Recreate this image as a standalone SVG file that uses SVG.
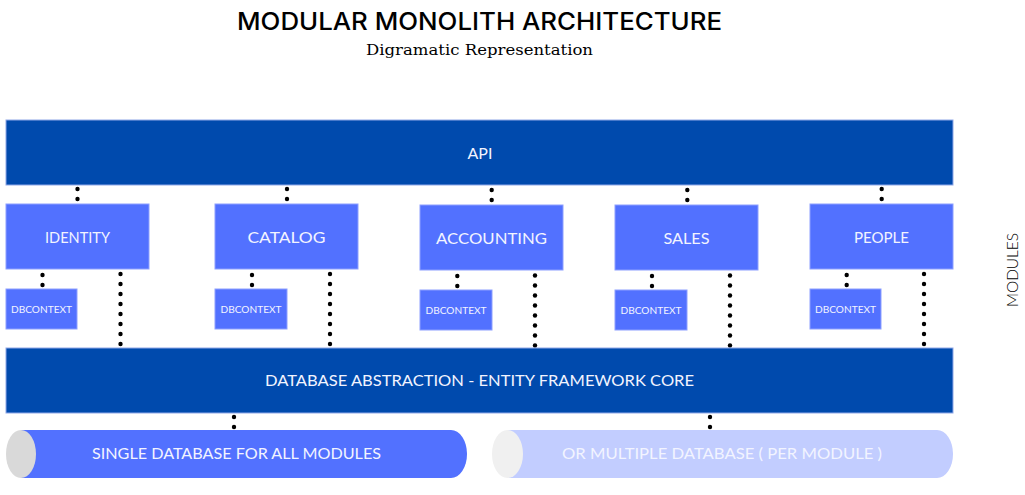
<svg xmlns="http://www.w3.org/2000/svg" width="1025" height="495" viewBox="0 0 1025 495">
<style>
.bar{fill:#004AAD;stroke:#8fa8e8;stroke-width:1}
.mod{fill:#5271FF;stroke:#8da0ff;stroke-width:1}
.lbl{font-family:Lato,"Open Sans",sans-serif;font-weight:400;fill:#f2f4ff;text-anchor:middle;dominant-baseline:central}
.dot{fill:#000}
</style>
<rect width="1025" height="495" fill="#fff"/>
<g id="title">
<text x="479.5" y="30" font-family="Inter,Lato,sans-serif" font-weight="500" font-size="24" fill="#000" text-anchor="middle" textLength="485" lengthAdjust="spacingAndGlyphs">MODULAR MONOLITH ARCHITECTURE</text>
<text x="479.5" y="55" font-family="'DejaVu Serif',serif" font-size="15" fill="#000" text-anchor="middle" textLength="227" lengthAdjust="spacingAndGlyphs">Digramatic Representation</text>
</g>
<g id="api"><rect class="bar" x="6" y="120" width="947" height="65"/><text class="lbl" x="480" y="152.5" font-size="16">API</text></g>
<g id="identity"><rect class="mod" x="6" y="204" width="143" height="65"/><text class="lbl" x="77.5" y="236" font-size="16" textLength="65" lengthAdjust="spacingAndGlyphs">IDENTITY</text></g>
<g id="catalog"><rect class="mod" x="215" y="204" width="143" height="65"/><text class="lbl" x="286.5" y="236" font-size="16" textLength="78" lengthAdjust="spacingAndGlyphs">CATALOG</text></g>
<g id="accounting"><rect class="mod" x="420" y="205" width="143" height="65"/><text class="lbl" x="491.5" y="237" font-size="16" textLength="111" lengthAdjust="spacingAndGlyphs">ACCOUNTING</text></g>
<g id="sales"><rect class="mod" x="615" y="205" width="143" height="65"/><text class="lbl" x="686.5" y="237" font-size="16" textLength="46" lengthAdjust="spacingAndGlyphs">SALES</text></g>
<g id="people"><rect class="mod" x="810" y="204" width="143" height="65"/><text class="lbl" x="881.5" y="236" font-size="16" textLength="55" lengthAdjust="spacingAndGlyphs">PEOPLE</text></g>
<g id="dbctx-identity"><rect class="mod" x="6" y="289" width="71" height="40"/><text class="lbl" x="41.5" y="308.5" font-size="10" textLength="61" lengthAdjust="spacingAndGlyphs">DBCONTEXT</text></g>
<g id="dbctx-catalog"><rect class="mod" x="215" y="289" width="72" height="40"/><text class="lbl" x="251" y="308.5" font-size="10" textLength="61" lengthAdjust="spacingAndGlyphs">DBCONTEXT</text></g>
<g id="dbctx-accounting"><rect class="mod" x="420" y="290" width="72" height="40"/><text class="lbl" x="456" y="309.5" font-size="10" textLength="61" lengthAdjust="spacingAndGlyphs">DBCONTEXT</text></g>
<g id="dbctx-sales"><rect class="mod" x="615" y="290" width="72" height="40"/><text class="lbl" x="651" y="309.5" font-size="10" textLength="61" lengthAdjust="spacingAndGlyphs">DBCONTEXT</text></g>
<g id="dbctx-people"><rect class="mod" x="810" y="289" width="71" height="40"/><text class="lbl" x="845.5" y="308.5" font-size="10" textLength="61" lengthAdjust="spacingAndGlyphs">DBCONTEXT</text></g>
<g id="connectors">
<g id="c-identity">
<circle class="dot" cx="77.5" cy="189" r="2.2"/><circle class="dot" cx="77.5" cy="199" r="2.2"/>
<circle class="dot" cx="42.5" cy="275" r="2.2"/><circle class="dot" cx="42.5" cy="285" r="2.2"/>
<circle class="dot" cx="120.5" cy="274" r="2.2"/><circle class="dot" cx="120.5" cy="284" r="2.2"/><circle class="dot" cx="120.5" cy="294" r="2.2"/><circle class="dot" cx="120.5" cy="304" r="2.2"/><circle class="dot" cx="120.5" cy="314" r="2.2"/><circle class="dot" cx="120.5" cy="324" r="2.2"/><circle class="dot" cx="120.5" cy="334" r="2.2"/><circle class="dot" cx="120.5" cy="344" r="2.2"/>
</g>
<g id="c-catalog">
<circle class="dot" cx="287" cy="189" r="2.2"/><circle class="dot" cx="287" cy="199" r="2.2"/>
<circle class="dot" cx="252" cy="275" r="2.2"/><circle class="dot" cx="252" cy="285" r="2.2"/>
<circle class="dot" cx="330" cy="274" r="2.2"/><circle class="dot" cx="330" cy="284" r="2.2"/><circle class="dot" cx="330" cy="294" r="2.2"/><circle class="dot" cx="330" cy="304" r="2.2"/><circle class="dot" cx="330" cy="314" r="2.2"/><circle class="dot" cx="330" cy="324" r="2.2"/><circle class="dot" cx="330" cy="334" r="2.2"/><circle class="dot" cx="330" cy="344" r="2.2"/>
</g>
<g id="c-accounting">
<circle class="dot" cx="491.7" cy="190" r="2.2"/><circle class="dot" cx="491.7" cy="200" r="2.2"/>
<circle class="dot" cx="457.3" cy="276" r="2.2"/><circle class="dot" cx="457.3" cy="286" r="2.2"/>
<circle class="dot" cx="535" cy="275.5" r="2.2"/><circle class="dot" cx="535" cy="285.5" r="2.2"/><circle class="dot" cx="535" cy="295.5" r="2.2"/><circle class="dot" cx="535" cy="305.5" r="2.2"/><circle class="dot" cx="535" cy="315.5" r="2.2"/><circle class="dot" cx="535" cy="325.5" r="2.2"/><circle class="dot" cx="535" cy="335.5" r="2.2"/><circle class="dot" cx="535" cy="345.5" r="2.2"/>
</g>
<g id="c-sales">
<circle class="dot" cx="687.3" cy="190" r="2.2"/><circle class="dot" cx="687.3" cy="200" r="2.2"/>
<circle class="dot" cx="652" cy="276" r="2.2"/><circle class="dot" cx="652" cy="286" r="2.2"/>
<circle class="dot" cx="730" cy="275.5" r="2.2"/><circle class="dot" cx="730" cy="285.5" r="2.2"/><circle class="dot" cx="730" cy="295.5" r="2.2"/><circle class="dot" cx="730" cy="305.5" r="2.2"/><circle class="dot" cx="730" cy="315.5" r="2.2"/><circle class="dot" cx="730" cy="325.5" r="2.2"/><circle class="dot" cx="730" cy="335.5" r="2.2"/><circle class="dot" cx="730" cy="345.5" r="2.2"/>
</g>
<g id="c-people">
<circle class="dot" cx="881.7" cy="189" r="2.2"/><circle class="dot" cx="881.7" cy="199" r="2.2"/>
<circle class="dot" cx="846.7" cy="275" r="2.2"/><circle class="dot" cx="846.7" cy="285" r="2.2"/>
<circle class="dot" cx="924" cy="274" r="2.2"/><circle class="dot" cx="924" cy="284" r="2.2"/><circle class="dot" cx="924" cy="294" r="2.2"/><circle class="dot" cx="924" cy="304" r="2.2"/><circle class="dot" cx="924" cy="314" r="2.2"/><circle class="dot" cx="924" cy="324" r="2.2"/><circle class="dot" cx="924" cy="334" r="2.2"/><circle class="dot" cx="924" cy="344" r="2.2"/>
</g>
<g id="c-db">
<circle class="dot" cx="234" cy="417" r="2.2"/><circle class="dot" cx="234" cy="427" r="2.2"/>
<circle class="dot" cx="710" cy="417" r="2.2"/><circle class="dot" cx="710" cy="427" r="2.2"/>
</g>
</g>
<g id="db-abstraction"><rect class="bar" x="6" y="348" width="947" height="65"/><text class="lbl" x="479.5" y="379.5" font-size="16" textLength="429" lengthAdjust="spacingAndGlyphs">DATABASE ABSTRACTION - ENTITY FRAMEWORK CORE</text></g>
<g id="single-db">
<path d="M21,430 H451 A16,24 0 0 1 451,478 H21 Z" fill="#5271FF"/>
<ellipse cx="21" cy="454" rx="15" ry="24" fill="#D9D9D9"/>
<text class="lbl" x="236.5" y="452.5" font-size="16" textLength="289" lengthAdjust="spacingAndGlyphs">SINGLE DATABASE FOR ALL MODULES</text>
</g>
<g id="multi-db">
<path d="M507.5,430 H937 A16,24 0 0 1 937,478 H507.5 Z" fill="#C2CDFF"/>
<ellipse cx="507.5" cy="454" rx="15.5" ry="24" fill="#F0F0F0"/>
<text class="lbl" x="722" y="452.5" font-size="16" textLength="320" lengthAdjust="spacingAndGlyphs">OR MULTIPLE DATABASE ( PER MODULE )</text>
</g>
<g id="modules-label"><text x="0" y="0" transform="translate(1012,270) rotate(-90)" font-family="Lato,'Open Sans',sans-serif" font-weight="300" font-size="15" fill="#000" text-anchor="middle" dominant-baseline="central" textLength="74" lengthAdjust="spacingAndGlyphs">MODULES</text></g>
</svg>
